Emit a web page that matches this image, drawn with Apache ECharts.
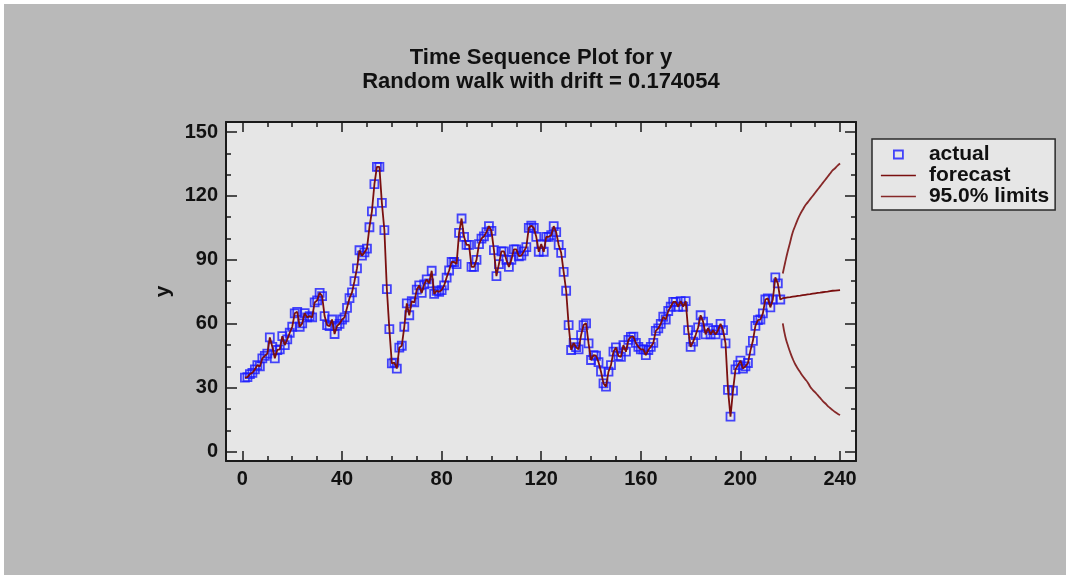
<!DOCTYPE html>
<html>
<head>
<meta charset="utf-8">
<script src="https://cdn.jsdelivr.net/npm/echarts@6/dist/echarts.min.js"></script>
<style>
  html, body { margin: 0; padding: 0; background: #fff; }
  #bg { position: absolute; left: 4px; top: 4px; right: 0; bottom: 0; background: #b9b9b9; }
  #chart { position: absolute; left: 0; top: 0; width: 1066px; height: 575px; }
</style>
</head>
<body>
<div id="bg"></div>
<div id="chart"></div>
<script>
// observed series, t = 1..216
const actual = [
  34.7, 35, 36.4, 37, 38.6, 40.6, 40, 43.8, 44.9, 46,
  53.6, 49.2, 43.8, 47.7, 48, 54.2, 50, 52.7, 55.8, 58.6,
  64.9, 65.6, 58.6, 60.2, 65, 63, 63.6, 63, 70, 71,
  74.5, 73, 63.6, 59.4, 58.9, 62, 55.2, 59, 60, 62,
  63, 67.5, 72, 74.7, 80, 86, 94.5, 92, 93.5, 95.3,
  105.3, 112.8, 125.5, 133.6, 133.6, 116.7, 104, 76.3, 57.5, 41.4,
  41.8, 39, 48.8, 49.7, 58.6, 69.6, 64, 70.6, 70, 76,
  78, 74.5, 78.5, 80.8, 79, 84.9, 74, 75.5, 75, 75.8,
  78, 81.7, 85, 89, 89, 88, 102.7, 109.4, 100.8, 97,
  97, 86.7, 86.7, 90, 97.4, 100, 101, 103, 105.8, 103.6,
  94.6, 82.4, 88, 94, 94, 90, 86.7, 90, 94.9, 94.9,
  91.7, 92, 94, 96, 105, 106, 105, 100.8, 93.8, 97.4,
  93.8, 100.8, 100.8, 101.6, 105.8, 103, 97, 93.3, 84.4, 75.5,
  59.4, 47.7, 51, 49, 48, 54.7, 59.4, 60.2, 50.8, 43,
  45.3, 45, 42, 37.5, 32, 30.5, 37.5, 40.6, 46.9, 48.9,
  44.9, 44.5, 50, 46.9, 52.4, 53.9, 54, 51, 49.2, 48,
  48, 45.3, 47.7, 49.2, 51, 56.7, 57.8, 60, 63.3, 62,
  66, 68, 70.3, 70.3, 68, 70.6, 68, 70.6, 57, 49.2,
  51.6, 54.7, 58.3, 64, 61, 55, 58, 55, 57, 55,
  57, 60, 57, 50.8, 29, 16.4, 28.6, 38.6, 40.6, 42.7,
  39, 40, 41.6, 47.4, 52, 59, 61.7, 62, 64.9, 71.4,
  71.9, 67.7, 71.4, 81.8, 79, 71.4
];

// out-of-sample forecast and 95% limits, t = 217..240
const forecast = [72.0, 72.2, 72.4, 72.5, 72.7, 72.9, 73.1, 73.2, 73.4, 73.6, 73.8, 73.9,
  74.1, 74.3, 74.5, 74.6, 74.8, 75.0, 75.1, 75.3, 75.5, 75.6, 75.7, 75.8];
const upper = [83.6, 89, 94, 98.5, 103, 106, 109, 111.5, 113.5, 115.5, 117, 118.5,
  120, 121.5, 123, 124.5, 126, 127.5, 129, 130.5, 132, 133, 134.2, 135.2];
const lower = [60.2, 54, 50, 46.5, 43.5, 41, 39, 37.2, 35.5, 34, 32.5, 30.5,
  29, 27.8, 26.5, 25.2, 23.8, 22.7, 21.5, 20.5, 19.5, 18.6, 17.8, 17.2];

const xTicks = [0, 40, 80, 120, 160, 200, 240];
const xMinorTicks = [10, 20, 30, 50, 60, 70, 90, 100, 110, 130, 140, 150, 170, 180, 190, 210, 220, 230];
const yTicks = [0, 30, 60, 90, 120, 150];
const yMinorTicks = [10, 20, 40, 50, 70, 80, 100, 110, 130, 140];

const FONT = "'Liberation Sans', Arial, sans-serif";
const FRAME = '#1a1a1a';
const RED = '#7a0f0f';
const LIMIT = '#862828';
const BLUE = '#1a1aff';
const X_MIN = -6.6, X_MAX = 246.4;
const Y_MIN = -4.4, Y_MAX = 154.7;
const nObs = actual.length;

const textStyle = {fontFamily: FONT, fontWeight: 'bold', fontSize: 20, color: '#111'};

const makeAxis = (pos, min, max, ticks, len, line, labels) => ({
  type: 'value',
  position: pos,
  min, max,
  splitLine: {show: false},
  axisLine: {show: line, onZero: false, lineStyle: {color: FRAME, width: 2}},
  axisTick: {show: true, inside: true, length: len, customValues: ticks, lineStyle: {color: FRAME, width: 1.5}},
  axisLabel: labels ? {show: true, customValues: ticks, margin: 8, ...textStyle} : {show: false}
})

const xAxis = [
  makeAxis('bottom', X_MIN, X_MAX, xTicks, 10, true, true),
  makeAxis('bottom', X_MIN, X_MAX, xMinorTicks, 5, false, false),
  makeAxis('top', X_MIN, X_MAX, xTicks, 10, true, false),
  makeAxis('top', X_MIN, X_MAX, xMinorTicks, 5, false, false),
]
const yAxis = [
  {...makeAxis('left', Y_MIN, Y_MAX, yTicks, 11, true, true),
    name: 'y', nameLocation: 'middle', nameGap: 52, nameRotate: 90,
    nameTextStyle: {...textStyle, fontSize: 21}},
  makeAxis('left', Y_MIN, Y_MAX, yMinorTicks, 5, false, false),
  makeAxis('right', Y_MIN, Y_MAX, yTicks, 11, true, false),
  makeAxis('right', Y_MIN, Y_MAX, yMinorTicks, 5, false, false),
]

const actualData = actual.map((v, i) => [i + 1, v])
const forecastData = actualData.concat(forecast.map((v, i) => [nObs + 1 + i, v]))
const upperData = upper.map((v, i) => [nObs + 1 + i, v])
const lowerData = lower.map((v, i) => [nObs + 1 + i, v])

// legend icons: fixed 35x10 box so the marker keeps its size
const squareIcon = 'path://M0,0M35,10M13,1h9v8h-9z'
const lineIcon = 'path://M0,0M35,10M0,4.2h35v1.6h-35z'

const chart = echarts.init(document.getElementById('chart'))
chart.setOption({
  animation: false,
  backgroundColor: 'transparent',
  title: {
    text: 'Time Sequence Plot for y',
    subtext: 'Random walk with drift = 0.174054',
    left: 536,
    top: 42,
    textAlign: 'center',
    itemGap: 2,
    textStyle: {...textStyle, fontSize: 22},
    subtextStyle: {...textStyle, fontSize: 22},
  },
  legend: {
    orient: 'vertical',
    left: 872,
    top: 139,
    padding: [5, 6, 3, 8],
    itemGap: 0,
    itemWidth: 35,
    itemHeight: 10,
    backgroundColor: '#e6e6e6',
    borderColor: '#2a2a2a',
    borderWidth: 1.5,
    borderRadius: 0,
    textStyle: {...textStyle, fontSize: 21, lineHeight: 20, padding: [0, 0, 0, 8]},
    data: [
      {name: 'actual', icon: squareIcon,
        itemStyle: {color: 'transparent', borderColor: BLUE, borderWidth: 1.8}},
      {name: 'forecast', icon: lineIcon, itemStyle: {color: RED, borderWidth: 0}},
      {name: '95.0% limits', icon: lineIcon, itemStyle: {color: LIMIT, borderWidth: 0}},
    ],
  },
  grid: {
    left: 226,
    right: 210,
    top: 122,
    bottom: 114,
    show: true,
    backgroundColor: '#e6e6e6',
    borderWidth: 0,
  },
  xAxis,
  yAxis,
  series: [
    {
      name: 'actual',
      type: 'scatter',
      data: actualData,
      symbol: 'rect',
      symbolSize: 8,
      itemStyle: {color: 'transparent', borderColor: BLUE, borderWidth: 1.8},
      z: 2,
    },
    {
      name: 'forecast',
      type: 'line',
      data: forecastData,
      symbol: 'none',
      lineStyle: {color: RED, width: 1.8},
      itemStyle: {color: RED},
      z: 3,
    },
    {
      name: '95.0% limits',
      type: 'line',
      data: upperData,
      symbol: 'none',
      smooth: true,
      lineStyle: {color: LIMIT, width: 1.8},
      itemStyle: {color: LIMIT},
      z: 3,
    },
    {
      name: '95.0% limits',
      type: 'line',
      data: lowerData,
      symbol: 'none',
      smooth: true,
      lineStyle: {color: LIMIT, width: 1.8},
      itemStyle: {color: LIMIT},
      z: 3,
    },
  ],
})
</script>
</body>
</html>
